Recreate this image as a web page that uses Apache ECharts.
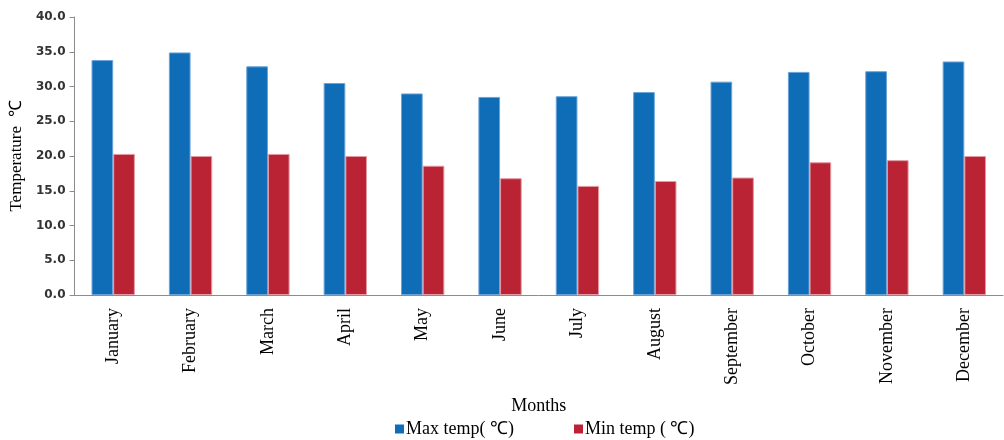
<!DOCTYPE html>
<html>
<head>
<meta charset="utf-8">
<script src="https://cdn.jsdelivr.net/npm/echarts@6/dist/echarts.min.js"></script>
<style>
  html, body { margin: 0; padding: 0; background: #ffffff; }
  #chart { width: 1004px; height: 440px; }
</style>
</head>
<body>
<div id="chart"></div>
<script>
// Monthly temperature data (°C)
const months = ['January', 'February', 'March', 'April', 'May', 'June',
                'July', 'August', 'September', 'October', 'November', 'December'];
const maxTemp = [33.8, 34.9, 32.9, 30.5, 29.0, 28.5, 28.6, 29.2, 30.7, 32.1, 32.2, 33.6];
const minTemp = [20.3, 20.0, 20.3, 20.0, 18.6, 16.8, 15.7, 16.4, 16.9, 19.1, 19.4, 20.0];
const seriesNames = ['Max temp( \u2103)', 'Min temp ( \u2103)'];

const serif = '"Liberation Serif", "Times New Roman", serif';

const chart = echarts.init(document.getElementById('chart'), null, { renderer: 'canvas' });

chart.setOption({
  animation: false,
  backgroundColor: '#ffffff',
  grid: { left: 73, right: 1, top: 17, bottom: 145, containLabel: false },
  legend: {
    bottom: -3,
    left: 390,
    itemWidth: 9,
    itemHeight: 9,
    itemGap: 60,
    icon: 'rect',
    itemStyle: { borderWidth: 0 },
    textStyle: { fontFamily: serif, fontSize: 18, color: '#000', padding: [0, 0, 0, -3] },
    data: seriesNames
  },
  xAxis: {
    type: 'category',
    data: months,
    name: 'Months',
    nameLocation: 'middle',
    nameGap: 102,
    nameTextStyle: { fontFamily: serif, fontSize: 18, color: '#000' },
    axisLine: { lineStyle: { color: '#8c8c8c', width: 1 } },
    axisTick: { show: false },
    axisLabel: {
      rotate: 90,
      margin: 13,
      fontFamily: serif,
      fontSize: 18,
      color: '#000'
    }
  },
  yAxis: {
    type: 'value',
    min: 0,
    max: 40,
    interval: 5,
    name: 'Temperature  \u2103',
    nameLocation: 'middle',
    nameGap: 46,
    nameTextStyle: { fontFamily: serif, fontSize: 17, color: '#000' },
    axisLine: { show: true, lineStyle: { color: '#8c8c8c', width: 1 } },
    axisTick: { show: true, length: 5, inside: false, lineStyle: { color: '#8c8c8c' } },
    splitLine: { show: false },
    axisLabel: {
      margin: 9,
      fontFamily: '"DejaVu Sans", Verdana, sans-serif',
      fontSize: 12,
      fontWeight: 'bold',
      color: '#333',
      formatter: v => v.toFixed(1)
    }
  },
  series: [
    {
      name: seriesNames[0],
      type: 'bar',
      data: maxTemp,
      barWidth: '28%',
      barGap: '0%',
      itemStyle: { color: '#0f6cb6', borderColor: '#6aa3d8', borderWidth: 1 }
    },
    {
      name: seriesNames[1],
      type: 'bar',
      data: minTemp,
      barWidth: '28%',
      barGap: '0%',
      itemStyle: { color: '#b92334', borderColor: '#e39aa3', borderWidth: 1 }
    }
  ]
});
</script>
</body>
</html>
